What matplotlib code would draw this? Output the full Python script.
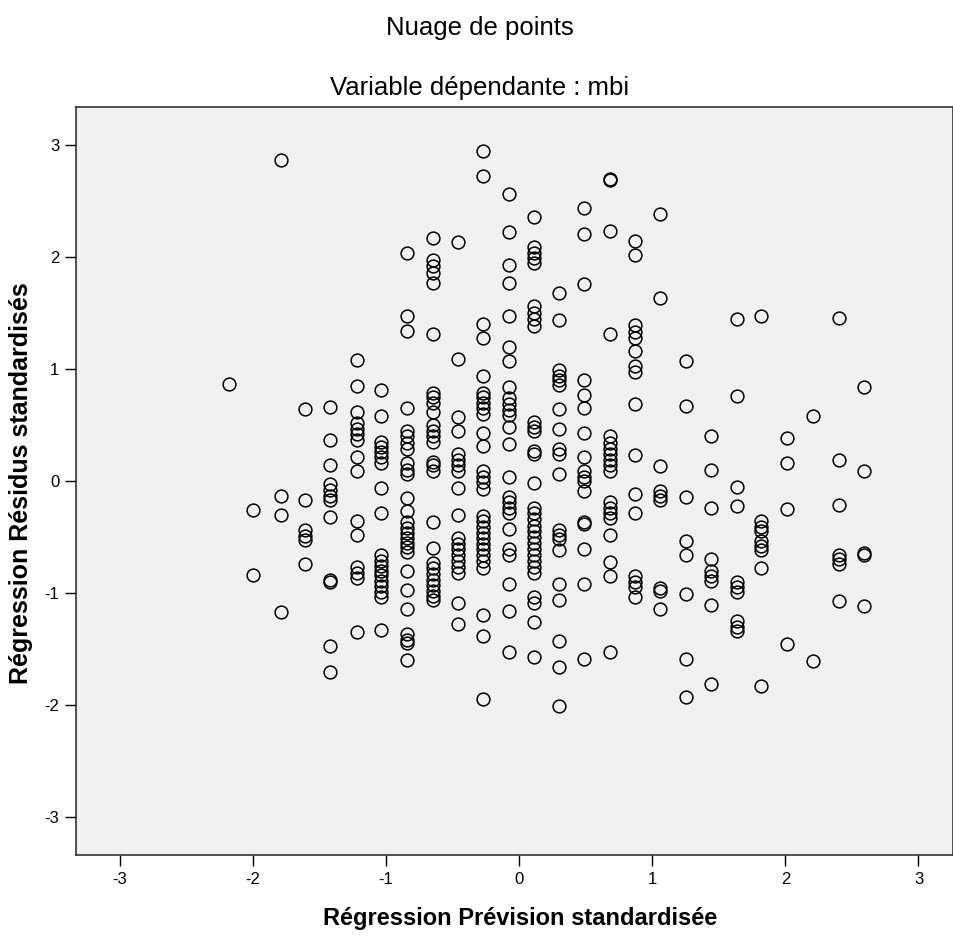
import matplotlib
matplotlib.use("Agg")
import matplotlib.pyplot as plt

# Discrete predicted values (standardized) – one list of residuals per level
pred_levels = [-2.18, -2.00, -1.79, -1.61, -1.42, -1.22, -1.04, -0.84, -0.65, -0.46,
               -0.27, -0.08, 0.11, 0.30, 0.49, 0.68, 0.87, 1.06, 1.25, 1.44,
               1.64, 1.82, 2.01, 2.21, 2.40, 2.59]

res_m2_18 = [0.87]
res_m2_00 = [-0.26, -0.835]
res_m1_79 = [2.87, -0.13, -0.30, -1.17]
res_m1_61 = [0.64, -0.17, -0.44, -0.49, -0.53, -0.74]
res_m1_42 = [0.66, 0.37, 0.14, -0.03, -0.08, -0.13, -0.17, -0.32, -0.88, -0.90, -1.47, -1.71]
res_m1_22 = [1.08, 0.85, 0.62, 0.52, 0.46, 0.42, 0.37, 0.21, 0.09, -0.36, -0.48,
             -0.77, -0.82, -0.87, -1.35]
res_m1_04 = [0.81, 0.58, 0.35, 0.30, 0.26, 0.21, 0.16, -0.06, -0.29, -0.66, -0.71,
             -0.76, -0.80, -0.84, -0.89, -0.94, -0.99, -1.04, -1.33]
res_m0_84 = [2.04, 1.47, 1.34, 0.65, 0.45, 0.40, 0.34, 0.29, 0.16, 0.10, 0.06, -0.15,
             -0.27, -0.37, -0.42, -0.46, -0.51, -0.55, -0.59, -0.63, -0.80, -0.97,
             -1.14, -1.37, -1.42, -1.45, -1.60]
res_m0_65 = [2.17, 1.97, 1.92, 1.86, 1.77, 1.31, 0.79, 0.75, 0.70, 0.62, 0.50, 0.45,
             0.40, 0.35, 0.17, 0.14, 0.09, -0.37, -0.60, -0.73, -0.78, -0.83, -0.88,
             -0.93, -0.98, -1.03, -1.06]
res_m0_46 = [2.13, 1.09, 0.57, 0.45, 0.24, 0.19, 0.14, 0.09, -0.06, -0.30, -0.51,
             -0.56, -0.61, -0.66, -0.71, -0.77, -0.82, -1.09, -1.28]
res_m0_27 = [2.95, 2.72, 1.40, 1.28, 0.94, 0.79, 0.75, 0.70, 0.65, 0.60, 0.43, 0.31,
             0.09, 0.04, -0.01, -0.07, -0.31, -0.36, -0.41, -0.46, -0.51, -0.56,
             -0.61, -0.66, -0.71, -0.78, -1.20, -1.38, -1.95]
res_m0_08 = [2.56, 2.22, 1.93, 1.77, 1.47, 1.20, 1.07, 0.84, 0.74, 0.69, 0.63, 0.59,
             0.48, 0.33, 0.04, -0.14, -0.19, -0.24, -0.29, -0.43, -0.61, -0.66,
             -0.92, -1.16, -1.53]
res_p0_11 = [2.36, 2.09, 2.04, 1.99, 1.95, 1.56, 1.50, 1.45, 1.38, 0.53, 0.48, 0.45,
             0.27, 0.24, -0.02, -0.24, -0.29, -0.34, -0.40, -0.45, -0.50, -0.55,
             -0.61, -0.66, -0.71, -0.77, -0.82, -1.04, -1.09, -1.26, -1.57]
res_p0_30 = [1.68, 1.44, 0.99, 0.94, 0.90, 0.86, 0.64, 0.46, 0.29, 0.24, 0.06, -0.44,
             -0.48, -0.52, -0.62, -0.92, -1.06, -1.43, -1.66, -2.01]
res_p0_49 = [2.44, 2.21, 1.76, 0.90, 0.77, 0.65, 0.43, 0.21, 0.09, 0.04, 0.00, -0.09,
             -0.37, -0.38, -0.61, -0.92, -1.59]
res_p0_68 = [2.69, 2.70, 2.23, 1.31, 0.40, 0.34, 0.29, 0.24, 0.19, 0.14, 0.09, -0.19,
             -0.24, -0.29, -0.33, -0.48, -0.72, -0.85, -1.53]
res_p0_87 = [2.14, 2.02, 1.39, 1.33, 1.28, 1.16, 1.03, 0.97, 0.69, 0.23, -0.12, -0.29,
             -0.85, -0.90, -0.95, -1.04]
res_p1_06 = [2.38, 1.63, 0.13, -0.09, -0.13, -0.17, -0.96, -0.98, -1.14]
res_p1_25 = [1.07, 0.67, -0.14, -0.54, -0.66, -1.01, -1.59, -1.93]
res_p1_44 = [0.40, 0.10, -0.24, -0.70, -0.80, -0.85, -0.89, -1.11, -1.81]
res_p1_64 = [1.45, 0.76, -0.05, -0.22, -0.90, -0.95, -0.99, -1.25, -1.30, -1.34]
res_p1_82 = [1.47, -0.36, -0.41, -0.45, -0.54, -0.58, -0.62, -0.78, -1.83]
res_p2_01 = [0.38, 0.16, -0.25, -1.46]
res_p2_21 = [0.58, -1.61]
res_p2_40 = [1.46, 0.19, -0.21, -0.66, -0.70, -0.74, -1.07]
res_p2_59 = [0.84, 0.09, -0.64, -0.66, -1.12]

residuals = [res_m2_18, res_m2_00, res_m1_79, res_m1_61, res_m1_42, res_m1_22,
             res_m1_04, res_m0_84, res_m0_65, res_m0_46, res_m0_27, res_m0_08,
             res_p0_11, res_p0_30, res_p0_49, res_p0_68, res_p0_87, res_p1_06,
             res_p1_25, res_p1_44, res_p1_64, res_p1_82, res_p2_01, res_p2_21,
             res_p2_40, res_p2_59]

ticks = [-3, -2, -1, 0, 1, 2, 3]

xs, ys = [], []
for lvl, col in zip(pred_levels, residuals):
    for r in col:
        xs.append(lvl)
        ys.append(r)

plt.rcParams['font.family'] = ['Liberation Sans', 'DejaVu Sans']

fig = plt.figure(figsize=(9.54, 9.44), dpi=100)
ax = fig.add_axes([76/954, 1 - 855/944, 1 - 76/954 - 0.001, (855 - 107)/944])
ax.set_facecolor('#F0F0F0')

ax.plot(xs, ys, linestyle='none', marker='o', markersize=9.2,
        markerfacecolor='none', markeredgecolor='black', markeredgewidth=1.1)

ax.set_xlim(-3.33, 3.26)
ax.set_ylim(-3.34, 3.34)
ax.set_xticks(ticks)
ax.set_yticks(ticks)
ax.set_xticklabels([str(t) for t in ticks])
ax.set_yticklabels([str(t) for t in ticks])
ax.tick_params(direction='out', length=8, width=1, labelsize=12, colors='black', pad=4)
for s in ax.spines.values():
    s.set_color('#333333')
    s.set_linewidth(1.2)

fig.text(0.503, 1 - 28/944, 'Nuage de points', ha='center', va='center', fontsize=18.5)
fig.text(0.503, 1 - 88/944, 'Variable dépendante : mbi', ha='center', va='center', fontsize=18.5)
fig.text(520/954, 1 - 918/944, 'Régression Prévision standardisée', ha='center',
         va='center', fontsize=17, fontweight='bold')
fig.text(21/954, 1 - 483/944, 'Régression Résidus standardisés', ha='center',
         va='center', rotation=90, fontsize=18, fontweight='bold')

fig.savefig('out.png', dpi=100, facecolor='white')
